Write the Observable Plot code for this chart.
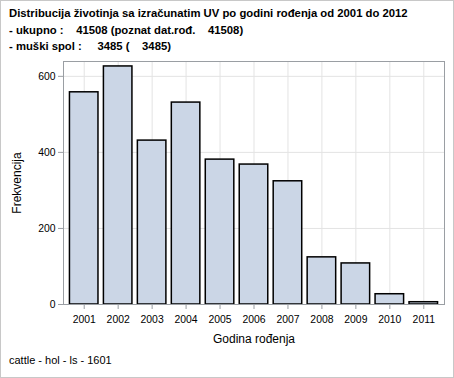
<!DOCTYPE html>
<html>
<head>
<meta charset="utf-8">
<script src="https://cdn.jsdelivr.net/npm/d3@7"></script>
<script src="https://cdn.jsdelivr.net/npm/@observablehq/plot@0.6"></script>
<style>
  html, body { margin: 0; padding: 0; background: #fff; }
  #wrap { position: relative; width: 454px; height: 378px; font-family: "Liberation Sans", Arial, sans-serif; color: #000; overflow: hidden; }
  #wrap svg { position: absolute; left: 0; top: 0; }
  .t { position: absolute; white-space: nowrap; }
  .title { left: 9px; font-weight: bold; font-size: 11.3px; white-space: pre; }
  #border { position: absolute; left: 0; top: 0; width: 452px; height: 376px; border: 1px solid #c8c8c8; pointer-events: none; }
</style>
</head>
<body>
<div id="wrap">
  <div class="t title" style="top:7px">Distribucija životinja sa izračunatim UV po godini rođenja od 2001 do 2012</div>
  <div class="t title" style="top:24px">- ukupno :    41508 (poznat dat.rođ.    41508)</div>
  <div class="t title" style="top:40px">- muški spol :     3485 (    3485)</div>
  <div class="t" style="left:0; width:454px; top:332px; font-size:12px;"><div style="position:absolute; left:254px; transform:translateX(-50%);">Godina rođenja</div></div>
  <div class="t" style="left:17px; top:183px; font-size:12px; transform:translate(-50%,-50%) rotate(-90deg);">Frekvencija</div>
  <div class="t" style="left:9px; top:354px; font-size:11px;">cattle - hol - ls - 1601</div>
  <div id="border"></div>
</div>
<script>
const years = ["2001","2002","2003","2004","2005","2006","2007","2008","2009","2010","2011"];
const counts = [558, 626, 431, 531, 381, 368, 324, 124, 108, 27, 6];
const yTicks = [0, 200, 400, 600];

const data = years.map((y, i) => ({year: y, count: counts[i]}));

const chart = Plot.plot({
  width: 454,
  height: 378,
  marginTop: 61,
  marginBottom: 74,
  marginLeft: 63,
  marginRight: 10,
  style: {fontFamily: "'Liberation Sans', Arial, sans-serif", fontSize: "10.4px", color: "#000", background: "transparent", overflow: "visible"},
  x: {type: "band", domain: years, paddingInner: 0.16, paddingOuter: 0.19, round: false, label: null},
  y: {domain: [0, 639], label: null},
  marks: [
    Plot.gridX(years, {stroke: "#e3e3e3", strokeOpacity: 1, strokeWidth: 1}),
    Plot.gridY([200, 400, 600], {stroke: "#e3e3e3", strokeOpacity: 1, strokeWidth: 1}),
    Plot.barY(data, {x: "year", y: "count", fill: "#cbd6e6", stroke: "#000", strokeWidth: 1.5}),
    Plot.frame({stroke: "#9a9ea3", strokeWidth: 1}),
    Plot.axisX(years, {tickSize: 5, tickPadding: 6, stroke: "#9a9ea3", label: null, fill: "#000"}),
    Plot.axisY(yTicks, {tickSize: 5, tickPadding: 3, stroke: "#9a9ea3", label: null, fill: "#000"})
  ]
});
document.getElementById("wrap").insertBefore(chart, document.getElementById("wrap").firstChild);
</script>
</body>
</html>
